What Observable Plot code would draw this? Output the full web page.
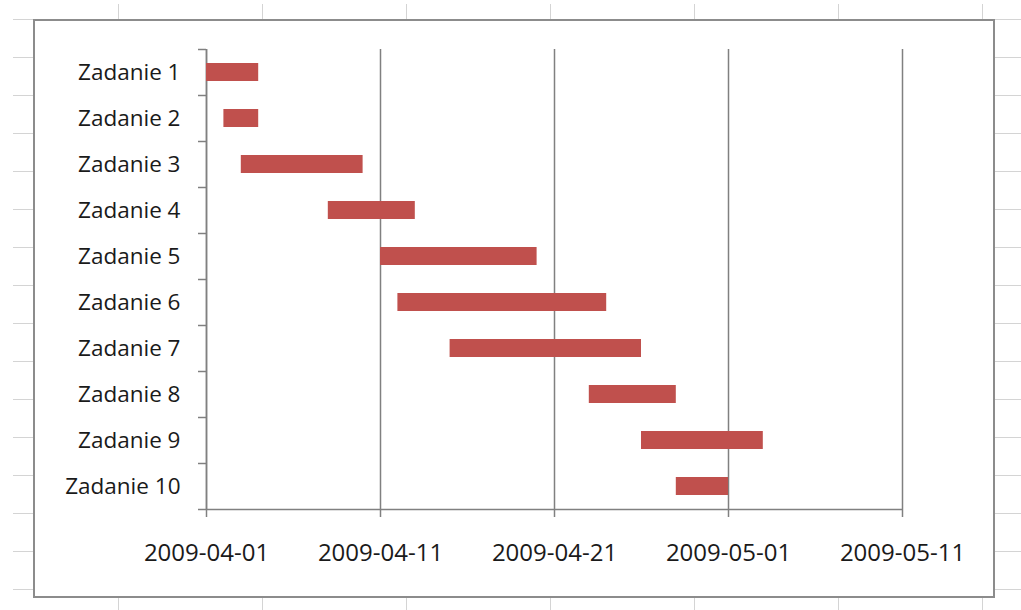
<!DOCTYPE html>
<html>
<head>
<meta charset="utf-8">
<script src="https://cdn.jsdelivr.net/npm/d3@7"></script>
<script src="https://cdn.jsdelivr.net/npm/@observablehq/plot@0.6"></script>
<style>
  html, body { margin: 0; padding: 0; background: #fff; }
  /* worksheet cells behind the chart */
  #sheet {
    position: absolute; left: 13px; top: 4px; width: 1008px; height: 606px;
    background-image:
      linear-gradient(to right, #d4d4d4 1px, transparent 1px),
      linear-gradient(to bottom, #d4d4d4 1px, transparent 1px);
    background-size: 144px 38px;
    background-position: 105px 15px;
  }
  #chart {
    position: absolute; left: 33px; top: 19px; width: 958px; height: 575px;
    border: 2px solid #8c8c8c; background: #fff;
  }
  #chart svg { display: block; }
</style>
</head>
<body>
<div id="sheet"></div>
<div id="chart"></div>
<script>
const tasks = ["Zadanie 1", "Zadanie 2", "Zadanie 3", "Zadanie 4", "Zadanie 5",
               "Zadanie 6", "Zadanie 7", "Zadanie 8", "Zadanie 9", "Zadanie 10"];
const starts = ["2009-04-01", "2009-04-02", "2009-04-03", "2009-04-08", "2009-04-11",
                "2009-04-12", "2009-04-15", "2009-04-23", "2009-04-26", "2009-04-28"];
const ends = ["2009-04-04", "2009-04-04", "2009-04-10", "2009-04-13", "2009-04-20",
              "2009-04-24", "2009-04-26", "2009-04-28", "2009-05-03", "2009-05-01"];
const tickDates = ["2009-04-01", "2009-04-11", "2009-04-21", "2009-05-01", "2009-05-11"];

const rows = tasks.map((name, i) => ({
  name, row: i, start: new Date(starts[i]), end: new Date(ends[i])
}));
const ticks = tickDates.map(d => new Date(d));
const axisColor = "#808080";

const chart = Plot.plot({
  width: 958, height: 575,
  marginLeft: 171, marginRight: 91, marginTop: 28, marginBottom: 87,
  style: { fontFamily: "'Open Sans', sans-serif", background: "transparent", color: "#1a1a1a" },
  x: { type: "utc", domain: [ticks[0], ticks[ticks.length - 1]] },
  y: { domain: [0, tasks.length], reverse: true },
  marks: [
    // vertical major gridlines
    Plot.ruleX(ticks, { stroke: axisColor, strokeWidth: 1.5 }),
    // category axis line and boundary ticks
    Plot.ruleX([ticks[0]], { stroke: axisColor, strokeWidth: 1.5 }),
    Plot.axisY(d3.range(tasks.length + 1), {
      tickSize: 8, tickFormat: () => "", stroke: axisColor, strokeWidth: 1.5, label: null
    }),
    // category labels centred in each row
    Plot.axisY(d3.range(tasks.length).map(i => i + 0.5), {
      tickSize: 0, tickPadding: 26, fontSize: 22.5, label: null,
      tickFormat: v => tasks[Math.floor(v)]
    }),
    // task bars
    Plot.rectX(rows, {
      x1: "start", x2: "end", y1: "row", y2: d => d.row + 1,
      insetTop: 14, insetBottom: 14, fill: "#c0504d"
    }),
    // date axis line and ticks
    Plot.ruleY([tasks.length], { stroke: axisColor, strokeWidth: 1.5 }),
    Plot.axisX(ticks, {
      tickSize: 8, tickPadding: 26, fontSize: 24, label: null,
      stroke: axisColor, strokeWidth: 1.5,
      tickFormat: d3.utcFormat("%Y-%m-%d")
    })
  ]
});
document.getElementById("chart").appendChild(chart);
</script>
</body>
</html>
